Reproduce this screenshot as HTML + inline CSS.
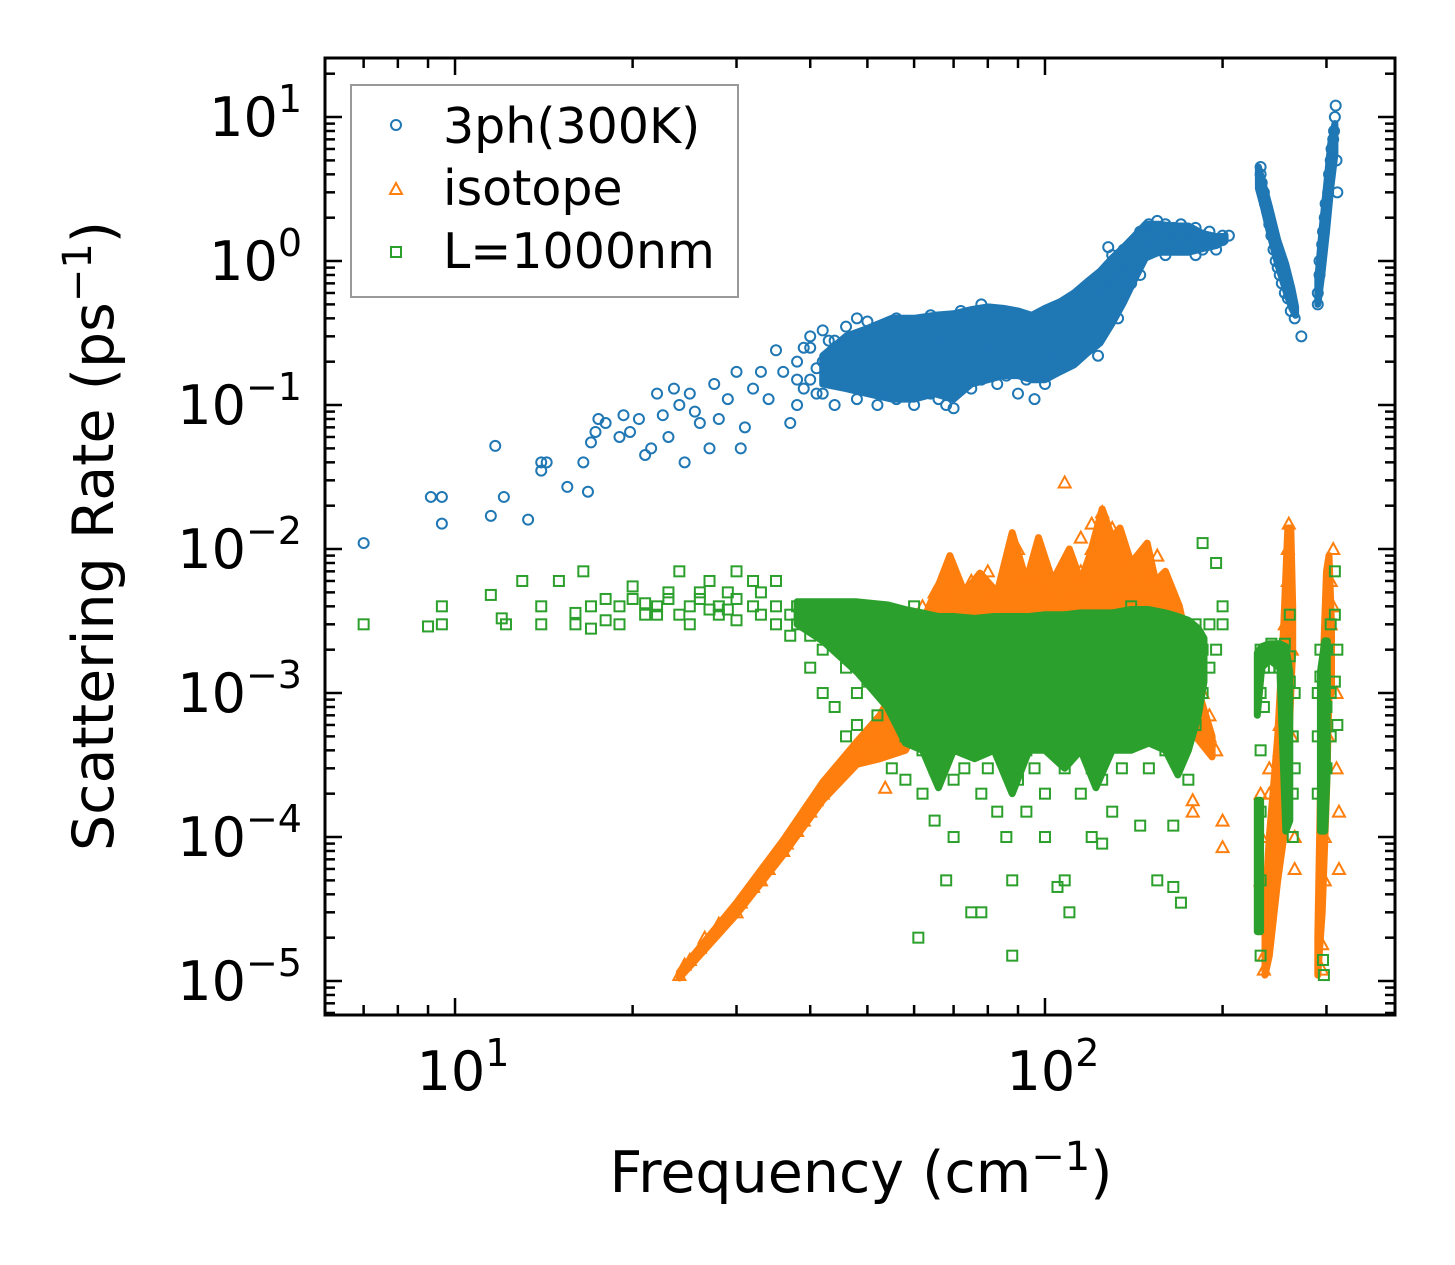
<!DOCTYPE html>
<html><head><meta charset="utf-8"><style>
html,body{margin:0;padding:0;background:#fff;}
svg{display:block;font-family:"DejaVu Sans","Liberation Sans",sans-serif;}
</style></head><body>
<svg id="chart" width="1455" height="1265" viewBox="0 0 1455 1265" xmlns="http://www.w3.org/2000/svg">
<rect width="1455" height="1265" fill="#fff"/>
<g id="marks"></g>
<g id="axes"></g>
<g>
<rect x="351" y="85" width="387" height="212" fill="#fff" fill-opacity="0.85" stroke="#999" stroke-width="2"/>
<circle cx="396" cy="125" r="5" fill="none" stroke="#1f77b4" stroke-width="2"/>
<text x="443" y="143" font-size="49">3ph(300K)</text>
<path d="M390,194 L402,194 L396,183 Z" fill="none" stroke="#ff7f0e" stroke-width="2"/>
<text x="443" y="205" font-size="49">isotope</text>
<rect x="391" y="247" width="10" height="10" fill="none" stroke="#2ca02c" stroke-width="2"/>
<text x="443" y="268" font-size="49">L=1000nm</text>
</g>
<text x="861" y="1192" font-size="57" text-anchor="middle">Frequency (cm<tspan font-size="40" dy="-22">−1</tspan><tspan dy="22">)</tspan></text>
<text transform="translate(113,536) rotate(-90)" font-size="57" text-anchor="middle">Scattering Rate (ps<tspan font-size="40" dy="-22">−1</tspan><tspan dy="22">)</tspan></text>
</svg>
<script>
// Dense-region envelopes: [freq, lowRate, highRate]
const ph3Band = [[42,0.14,0.22],[46,0.13,0.3],[50,0.12,0.34],[55,0.11,0.4],[60,0.11,0.4],[65,0.12,0.42],[70,0.11,0.43],[75,0.14,0.46],[80,0.15,0.48],[85,0.16,0.47],[90,0.16,0.45],[95,0.15,0.42],[100,0.15,0.47],[106,0.17,0.52],[112,0.19,0.6],[118,0.23,0.72],[124,0.27,0.85],[130,0.37,1.05],[136,0.52,1.25],[142,0.75,1.5],[148,1.05,1.8],[156,1.15,1.8],[165,1.15,1.75],[175,1.15,1.75],[185,1.22,1.55],[195,1.28,1.48],[202,1.38,1.48]];
const ph3BandHi1 = [[230,3.2,4.5],[235,2.3,3.3],[240,1.6,2.4],[248,0.95,1.4],[256,0.62,0.95],[262,0.47,0.65],[266,0.42,0.48]];
const ph3BandHi2 = [[290,0.5,0.75],[295,0.85,1.7],[300,1.6,3.3],[305,3.2,6.5],[310,5.5,9]];
const isoBand = [[24,1.05e-5,1.15e-5],[30,2.9e-5,3.5e-5],[36,7.5e-5,9.5e-5],[42,1.8e-4,2.4e-4],[48,3.2e-4,4.6e-4],[52.5,3.5e-4,7e-4],[58,4e-4,1.5e-3],[63.6,8e-4,4e-3],[66.4,1e-3,6e-3],[69,1e-3,9e-3],[73,1e-3,5e-3],[77.6,1e-3,6.8e-3],[83,1e-3,5e-3],[88,1e-3,1.3e-2],[93,1e-3,6e-3],[97.5,1e-3,1.2e-2],[103,1e-3,6e-3],[110,1e-3,1e-2],[115,1e-3,6e-3],[119,1e-3,9e-3],[125,1e-3,1.9e-2],[130,1e-3,1.2e-2],[134,1e-3,1.4e-2],[140,1e-3,8e-3],[149,1e-3,1.1e-2],[154,1e-3,6e-3],[160,1e-3,7e-3],[169,8e-4,4e-3],[180,5e-4,1.2e-3],[192,3.6e-4,5e-4]];
const isoBandHi1 = [[236,1.1e-5,3e-5],[240,1.5e-5,1e-4],[248,5e-5,5e-4],[254,1e-4,3e-3],[258,3e-4,1.4e-2],[261,1e-3,1.4e-2],[263,2e-3,4e-3]];
const isoBandHi2 = [[290,1.1e-5,2e-5],[295,3e-5,1e-3],[300,2e-4,7e-3],[303,1e-3,9e-3],[306,1e-3,3e-3]];
const bndBand = [[38,3e-3,4.3e-3],[42,2.3e-3,4.3e-3],[48,1.4e-3,4.3e-3],[54,8e-4,4.1e-3],[58,4.5e-4,3.8e-3],[62,4e-4,3.6e-3],[66,2.2e-4,3.4e-3],[70,4e-4,3.4e-3],[76,3.5e-4,3.3e-3],[82,4e-4,3.4e-3],[88,2e-4,3.4e-3],[94,4e-4,3.4e-3],[100,4e-4,3.5e-3],[108,3e-4,3.5e-3],[115,4e-4,3.6e-3],[122,2.2e-4,3.6e-3],[130,4e-4,3.6e-3],[140,4e-4,3.8e-3],[150,4.5e-4,3.8e-3],[160,4e-4,3.6e-3],[168,2.7e-4,3.4e-3],[175,4e-4,3.2e-3],[182,7e-4,2.8e-3],[186,1.2e-3,2.4e-3]];
const bndBandHi1 = [[229,7e-4,1.9e-3],[233,1.5e-3,2.1e-3],[240,1.7e-3,2.2e-3],[250,1.5e-3,2.2e-3],[256,1.1e-4,2.1e-3],[260,1.3e-4,1.4e-3]];
const bndBandHi2 = [[229,2.2e-5,1.8e-4],[232,2.2e-5,1.8e-4]];
const bndBandHi3 = [[293,1.1e-4,1.4e-3],[298,1.1e-4,2.3e-3],[301,3e-4,2.3e-3]];

const ph3 = [[7,0.011],[9.1,0.023],[9.5,0.023],[9.5,0.015],[11.5,0.017],[11.7,0.052],[12.1,0.023],[13.3,0.016],[14,0.035],[14,0.04],[14.3,0.04],[15.5,0.027],[16.5,0.04],[16.8,0.025],[17,0.055],[17.3,0.065],[17.5,0.08],[18,0.075],[19,0.06],[19.3,0.085],[19.8,0.065],[20.5,0.08],[21,0.045],[21.5,0.05],[22,0.12],[22.5,0.085],[23,0.06],[23.5,0.13],[24,0.1],[24.5,0.04],[25,0.12],[25.5,0.09],[26,0.075],[27,0.05],[27.5,0.14],[28,0.08],[29,0.11],[30,0.17],[30.5,0.05],[31,0.07],[32,0.13],[33,0.17],[34,0.11],[35,0.24],[36,0.17],[37,0.075],[38,0.1],
[38,0.15],[38,0.2],[39,0.13],[39,0.25],[40,0.15],[40,0.25],[40,0.3],[41,0.18],[41,0.12],[42,0.12],[42,0.2],[42,0.33],[43,0.28],[44,0.1],[44,0.18],[44,0.28],[46,0.14],[46,0.22],[46,0.35],[48,0.11],[48,0.17],[48,0.3],[48,0.4],[50,0.13],[50,0.2],[50,0.25],[50,0.38],[52,0.1],[52,0.16],[52,0.28],[54,0.12],[54,0.22],[54,0.33],[56,0.11],[56,0.18],[56,0.3],[56,0.4],[58,0.13],[58,0.2],[58,0.27],[60,0.1],[60,0.15],[60,0.25],[60,0.35],[62,0.14],[62,0.22],[62,0.32],[64,0.12],[64,0.18],[64,0.3],[64,0.42],[66,0.11],[66,0.2],[66,0.26],[68,0.1],[68,0.16],[68,0.28],[68,0.38],[70,0.095],[70,0.14],[70,0.22],[70,0.33],[72,0.15],[72,0.25],[72,0.45],[75,0.13],[75,0.2],[75,0.3],[75,0.4],[78,0.15],[78,0.24],[78,0.35],[78,0.5],[80,0.17],[80,0.27],[80,0.38],[83,0.14],[83,0.2],[83,0.3],[83,0.45],[86,0.16],[86,0.25],[86,0.33],[90,0.12],[90,0.2],[90,0.3],[90,0.42],[93,0.15],[93,0.22],[93,0.35],[96,0.11],[96,0.18],[96,0.27],[96,0.4],[100,0.14],[100,0.22],[100,0.3],[103,0.2],[103,0.28],[103,0.38],[106,0.22],[106,0.3],[106,0.45],[110,0.25],[110,0.35],[110,0.5],[113,0.28],[113,0.4],[113,0.55],[116,0.3],[116,0.45],[116,0.6],[120,0.35],[120,0.5],[120,0.7],[123,0.22],[123,0.4],[123,0.6],[126,0.45],[126,0.6],[126,0.75],[128,1.25],[130,0.5],[130,0.65],[130,0.8],[130,1.1],[133,0.4],[133,0.7],[133,0.9],[136,0.6],[136,0.85],[136,1.2],[140,0.7],[140,1.0],[140,1.3],[145,0.8],[145,1.2],[145,1.6],[150,1.2],[150,1.5],[150,1.8],[155,1.3],[155,1.6],[155,1.9],[160,1.1],[160,1.5],[160,1.8],[165,1.4],[165,1.7],[170,1.2],[170,1.5],[170,1.8],[175,1.3],[175,1.6],[180,1.1],[180,1.4],[180,1.7],[185,1.2],[185,1.5],[190,1.3],[190,1.6],[195,1.2],[195,1.4],[200,1.4],[200,1.5],[205,1.5],
[232,4.5],[232,4.0],[233,3.5],[235,3.0],[236,2.5],[238,2.2],[240,1.8],[242,1.5],[244,1.2],[246,1.0],[248,0.9],[250,0.8],[252,0.7],[255,0.6],[258,0.55],[261,0.45],[265,0.4],[272,0.3],
[290,0.5],[290,0.6],[292,0.8],[292,1.0],[295,1.3],[296,1.6],[298,2],[299,2.5],[302,3],[303,4],[305,5],[306,6],[308,7],[309,8],[310,10],[311,12],[312,5],[313,3]];

const iso = [[24,1.1e-5],[24.5,1.3e-5],[25,1.4e-5],[26,1.7e-5],[26.5,2e-5],[28,2.5e-5],[30,3e-5],[30.5,3.5e-5],[32,4.5e-5],[33,5e-5],[34,6e-5],[36,8e-5],[36.5,9e-5],[38,1.1e-4],[39,1.3e-4],[40,1.5e-4],[41,1.8e-4],[42,2e-4],[43,2.4e-4],[44,2.6e-4],[45,3e-4],[46,3.2e-4],[47,4e-4],[48,3.5e-4],[49,4.5e-4],[50,4.5e-4],[51,5.5e-4],[52,5e-4],[53,6e-4],[55,6e-4],[56,8e-4],[58,7e-4],[58,1e-3],[60,1e-3],[60,2e-3],[62,2e-3],[62,3e-3],[62,4e-3],[65,2.5e-3],[65,4e-3],[65,5e-3],[68,3e-3],[68,5e-3],[68,7e-3],[70,2e-3],[70,4e-3],[75,3e-3],[75,6e-3],[80,3e-3],[80,5e-3],[80,7e-3],[85,2.5e-3],[85,4e-3],[90,3e-3],[90,6e-3],[90,1e-2],[95,4e-3],[95,7e-3],[100,3e-3],[100,5e-3],[100,8e-3],[105,4e-3],[105,6e-3],[108,0.029],[110,5e-3],[110,8e-3],[115,4e-3],[115,7e-3],[115,1.2e-2],[120,6e-3],[120,1e-2],[120,1.5e-2],[125,8e-3],[125,1.3e-2],[125,1.8e-2],[130,6e-3],[130,1e-2],[130,1.4e-2],[135,5e-3],[135,8e-3],[140,4e-3],[140,6e-3],[145,3e-3],[145,5e-3],[150,5e-3],[150,7e-3],[155,4e-3],[155,9e-3],[160,3e-3],[160,5e-3],[165,2e-3],[165,3e-3],[170,1.5e-3],[170,2.5e-3],[175,1e-3],[175,2e-3],[180,8e-4],[180,1.5e-3],[185,6e-4],[185,1e-3],[190,5e-4],[190,7e-4],[195,4e-4],[200,1.3e-4],[200,8.5e-5],[178,1.8e-4],[178,1.5e-4],[53.6,2.2e-4],
[232,5e-5],[232,2e-4],[233,1e-4],[235,1.5e-5],[235,1.2e-5],[236,3e-5],[240,3e-4],[240,2e-4],[245,8e-5],[250,4e-4],[250,6e-4],[255,1e-3],[255,3e-3],[258,6e-3],[258,1e-2],[259,1.5e-2],[262,2e-3],[262,5e-4],[265,1e-4],[265,6e-5],[295,1.2e-5],[295,1.8e-5],[298,5e-5],[298,1e-4],[302,5e-4],[302,1e-3],[305,3e-3],[305,6e-3],[308,1e-2],[308,4e-3],[312,1e-3],[312,3e-4],[315,1.5e-4],[315,6e-5]];

const bnd = [[7,3e-3],[9,2.9e-3],[9.5,3e-3],[9.5,4e-3],[11.5,4.8e-3],[12,3.3e-3],[12.2,3e-3],[13,6e-3],[14,4e-3],[14,3e-3],[15,6e-3],[16,3.6e-3],[16,3e-3],[16.5,7e-3],[17,2.8e-3],[17,4e-3],[18,3.2e-3],[18,4.5e-3],[19,3e-3],[19,4e-3],[20,4.5e-3],[20,5.5e-3],[21,3.5e-3],[21,4.2e-3],[22,4e-3],[22,3.5e-3],[23,4.5e-3],[23,5e-3],[24,7e-3],[24,3.5e-3],[25,4e-3],[25,3e-3],[26,4.5e-3],[26,5e-3],[27,6e-3],[27,3.8e-3],[28,4e-3],[28,3.5e-3],[29,3.8e-3],[29,5e-3],[30,4.5e-3],[30,7e-3],[30,3.2e-3],[32,6e-3],[32,4e-3],[33,3.5e-3],[33,5e-3],[35,4e-3],[35,3e-3],[35,6e-3],[37,3.5e-3],[37,2.5e-3],[38,4e-3],[38,3e-3],
[40,2.5e-3],[40,4e-3],[40,1.5e-3],[42,3e-3],[42,2e-3],[42,1e-3],[44,3.5e-3],[44,2.5e-3],[44,8e-4],[46,3e-3],[46,1.5e-3],[46,5e-4],[48,4e-3],[48,2e-3],[48,1e-3],[48,6e-4],[50,3e-3],[50,2e-3],[50,1.2e-3],[52,2.5e-3],[52,1.5e-3],[52,7e-4],[55,3e-3],[55,2e-3],[55,1e-3],[55,3e-4],[58,2e-3],[58,1e-3],[58,5e-4],[58,2.5e-4],[60,4e-3],[60,2e-3],[60,1e-3],[60,6e-4],[61,2e-5],[62,3e-3],[62,1.5e-3],[62,7e-4],[62,4e-4],[62,2e-4],[65,2e-3],[65,1e-3],[65,5e-4],[65,3e-4],[65,1.3e-4],[68,3e-3],[68,1.5e-3],[68,8e-4],[68,4e-4],[68,5e-5],[70,2.5e-3],[70,1.2e-3],[70,6e-4],[70,2.5e-4],[70,1e-4],[73,2e-3],[73,1e-3],[73,5e-4],[73,3e-4],[75,3e-3],[75,1.5e-3],[75,7e-4],[75,3e-5],[78,2e-3],[78,1e-3],[78,4e-4],[78,2e-4],[78,3e-5],[80,2.5e-3],[80,1.2e-3],[80,6e-4],[80,3e-4],[83,2e-3],[83,1e-3],[83,5e-4],[83,1.5e-4],[86,3e-3],[86,1.5e-3],[86,7e-4],[86,3e-4],[86,1e-4],[88,2e-3],[88,8e-4],[88,5e-5],[88,1.5e-5],[90,2.5e-3],[90,1.2e-3],[90,6e-4],[90,2.5e-4],[93,2e-3],[93,1e-3],[93,4e-4],[93,1.5e-4],[96,3e-3],[96,1.5e-3],[96,7e-4],[96,3e-4],[100,2e-3],[100,1e-3],[100,5e-4],[100,2e-4],[100,1e-4],[105,2.5e-3],[105,1.2e-3],[105,6e-4],[105,4.5e-5],[108,2e-3],[108,1e-3],[108,5e-4],[108,3e-4],[108,5e-5],[110,3e-3],[110,1.5e-3],[110,7e-4],[110,3e-5],[115,2e-3],[115,1e-3],[115,4e-4],[115,2e-4],[120,2.5e-3],[120,1.2e-3],[120,6e-4],[120,3e-4],[120,1e-4],[125,2e-3],[125,1e-3],[125,5e-4],[125,2.5e-4],[125,9e-5],[130,3e-3],[130,1.5e-3],[130,7e-4],[130,1.5e-4],[135,2e-3],[135,1e-3],[135,5e-4],[135,3e-4],[140,4e-3],[140,2e-3],[140,1e-3],[140,5e-4],[145,2.5e-3],[145,1.2e-3],[145,6e-4],[145,1.2e-4],[150,3e-3],[150,1.5e-3],[150,7e-4],[150,3e-4],[155,2e-3],[155,1e-3],[155,5e-4],[155,5e-5],[160,3e-3],[160,1.5e-3],[160,8e-4],[160,4e-4],[165,2.5e-3],[165,1.2e-3],[165,6e-4],[165,1.2e-4],[165,4.5e-5],[170,3e-3],[170,1.5e-3],[170,7e-4],[170,3.5e-5],[175,2e-3],[175,1e-3],[175,2.5e-4],[180,3e-3],[180,1.5e-3],[180,6e-4],[185,1.1e-2],[185,2e-3],[185,1e-3],[190,3e-3],[190,1.5e-3],[195,8e-3],[195,2e-3],[200,4e-3],[200,3e-3],
[232,1e-3],[232,2e-3],[232,4e-4],[232,1.5e-4],[232,5e-5],[232,1.5e-5],[235,1.5e-3],[235,8e-4],[240,2e-3],[240,1.5e-3],[242,2.2e-3],[245,2e-3],[245,1.8e-3],[250,2e-3],[250,1.5e-3],[255,2.2e-3],[255,1e-3],[260,1.8e-3],[260,3.5e-3],[260,1.2e-3],[263,5e-4],[263,2e-4],[263,1e-4],[265,1e-3],[265,3e-4],[290,5e-4],[290,1e-3],[290,2e-4],[293,1.3e-3],[293,2e-3],[296,1e-3],[296,5e-4],[296,1.4e-5],[297,1.1e-5],[300,2e-3],[300,8e-4],[300,3e-4],[305,3e-3],[305,1e-3],[305,5e-4],[310,1.2e-3],[310,3.5e-3],[310,7e-3],[313,2e-3],[313,6e-4]];

const xTickVals = [10, 100];
const xTickLabels = ["1", "2"];
const yTickExps = [1, 0, -1, -2, -3, -4, -5];

const L=325, R=1395, T=58, B=1015;
const xMin=Math.log10(6.02), xMax=Math.log10(392);
const yMin=-5.236, yMax=1.41;
function X(f){return L+(Math.log10(f)-xMin)/(xMax-xMin)*(R-L);}
function Y(v){return B-(Math.log10(v)-yMin)/(yMax-yMin)*(B-T);}
const NS="http://www.w3.org/2000/svg";
const marks=document.getElementById('marks');
const axes=document.getElementById('axes');
function mk(tag,attrs,parent){const e=document.createElementNS(NS,tag);for(const k in attrs)e.setAttribute(k,attrs[k]);parent.appendChild(e);return e;}

function band(arr,color,name){
  const up=arr.map(p=>X(p[0]).toFixed(1)+','+Y(p[2]).toFixed(1));
  const dn=arr.slice().reverse().map(p=>X(p[0]).toFixed(1)+','+Y(p[1]).toFixed(1));
  const pg=mk('polygon',{points:up.concat(dn).join(' '),fill:color,stroke:color,'stroke-width':7,'stroke-linejoin':'round'},marks);
  
  
}

[ph3Band,ph3BandHi1,ph3BandHi2].forEach(b=>band(b,'#1f77b4','dense-band-3ph'));
ph3.forEach(p=>{
  const c=mk('circle',{cx:X(p[0]),cy:Y(p[1]),r:5,fill:'none',stroke:'#1f77b4','stroke-width':2},marks);
  
  
});
[isoBand,isoBandHi1,isoBandHi2].forEach(b=>band(b,'#ff7f0e','dense-band-isotope'));
iso.forEach(p=>{
  const x=X(p[0]),y=Y(p[1]);
  const t=mk('path',{d:`M${x-6},${y+5} L${x+6},${y+5} L${x},${y-6} Z`,fill:'none',stroke:'#ff7f0e','stroke-width':2},marks);
  
  
});
[bndBand,bndBandHi1,bndBandHi2,bndBandHi3].forEach(b=>band(b,'#2ca02c','dense-band-boundary'));
bnd.forEach(p=>{
  const s=mk('rect',{x:X(p[0])-5,y:Y(p[1])-5,width:10,height:10,fill:'none',stroke:'#2ca02c','stroke-width':2},marks);
  
  
});

const fr=mk('rect',{x:L,y:T,width:R-L,height:B-T,fill:'none',stroke:'#000','stroke-width':3},axes);


for(let d=0;d<=2;d++){
  for(let m=1;m<=9;m++){
    const f=m*Math.pow(10,d);
    const x=X(f); if(x<L||x>R) continue;
    const len=m===1?17:10;
    mk('line',{x1:x,y1:B,x2:x,y2:B-len,stroke:'#000','stroke-width':2.5},axes);
    mk('line',{x1:x,y1:T,x2:x,y2:T+len,stroke:'#000','stroke-width':2.5},axes);
  }
}
xTickVals.forEach((v,i)=>{
  const t=mk('text',{x:X(v)+8,y:1090,'font-size':54,'text-anchor':'middle'},axes);
  t.innerHTML='10<tspan font-size="38" dy="-24">'+xTickLabels[i]+'</tspan>';
  
  
});
for(let e=-6;e<=1;e++){
  for(let m=1;m<=9;m++){
    const v=m*Math.pow(10,e);
    const y=Y(v); if(y<T||y>B) continue;
    const len=m===1?17:10;
    mk('line',{x1:L,y1:y,x2:L+len,y2:y,stroke:'#000','stroke-width':2.5},axes);
    mk('line',{x1:R,y1:y,x2:R-len,y2:y,stroke:'#000','stroke-width':2.5},axes);
  }
}
yTickExps.forEach(e=>{
  const y=Y(Math.pow(10,e));
  const lab=e<0?'−'+(-e):String(e);
  const t=mk('text',{x:302,y:y+19,'font-size':54,'text-anchor':'end'},axes);
  t.innerHTML='10<tspan font-size="38" dy="-24">'+lab+'</tspan>';
  
  
});
</script>
</body></html>
